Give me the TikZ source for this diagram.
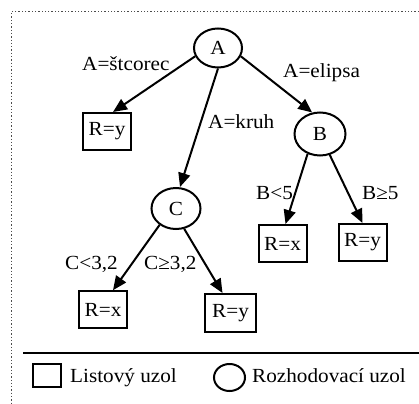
\documentclass[tikz,border=0pt]{standalone}
\usepackage{fontspec}
\setmainfont{Liberation Serif}[FakeStretch=1.06]
\usetikzlibrary{arrows.meta,shapes.geometric}
\begin{document}
\begin{tikzpicture}[x=1pt,y=-1pt,
  every node/.style={font=\fontsize{20}{22}\selectfont},
  decision/.style={ellipse,draw,line width=2pt,minimum width=48pt,minimum height=39pt,inner sep=0pt},
  leaf/.style={rectangle,draw,line width=2pt,minimum width=48pt,minimum height=37pt,inner sep=0pt},
  edge/.style={line width=2pt,-{Triangle[length=14pt,width=12pt]}},
  lbl/.style={anchor=base west,inner sep=0pt},
  frame/.style={line width=1.3pt,gray!60!black,dash pattern=on 1.3pt off 2pt}
]
\useasboundingbox (0,0) rectangle (419,403);

% dotted frame
\coordinate (fcorner) at (11.5,11.5);
\coordinate (fright) at (419,11.5);
\coordinate (fbottom) at (11.5,403);
\draw[frame] (fright) -- (fcorner) -- (fbottom);

% decision nodes
\node[decision] (A) at (218,48) {A};
\node[decision,minimum width=51pt,minimum height=43pt] (B) at (320,134) {B};
\node[decision,minimum width=49pt,minimum height=41pt] (C) at (176,208.5) {C};

% leaf nodes
\node[leaf] (ly) at (107,131.5) {R=y};
\node[leaf] (bx) at (282.5,243.5) {R=x};
\node[leaf] (by) at (362.5,242.5) {R=y};
\node[leaf] (cx) at (103,309.7) {R=x};
\node[leaf,minimum width=51pt,minimum height=38pt] (cy) at (230.5,313) {R=y};

% branches
\draw[edge] (A.200) -- ([xshift=6pt]ly.north);
\draw[edge] (A.south) -- ([xshift=4pt]C.north);
\draw[edge] (A.340) -- (B.110);
\draw[edge] (B.238) -- ([xshift=3pt]bx.north);
\draw[edge] (B.295) -- (by.north);
\draw[edge] (C.225) -- ([xshift=10pt]cx.north);
\draw[edge] (C.292) -- ([xshift=-8pt]cy.north);

% branch conditions
\node[lbl] (l1) at (82,70.5) {A=štcorec};
\node[lbl] (l2) at (283,78) {A=elipsa};
\node[lbl] (l3) at (208,129) {A=kruh};
\node[lbl] (l4) at (256,199) {B<5};
\node[lbl] (l5) at (362,199) {B≥5};
\node[lbl] (l6) at (65,269) {C<3,2};
\node[lbl] (l7) at (144,269) {C≥3,2};

% legend
\coordinate (legl) at (23,353);
\coordinate (legr) at (419,353);
\draw[line width=2pt] (legl) -- (legr);
\node[leaf,minimum width=28pt,minimum height=23pt] (legleaf) at (47,375.5) {};
\node[lbl] (legt1) at (70,382) {Listový uzol};
\node[decision,minimum width=31pt,minimum height=27pt] (legdec) at (229.5,377.5) {};
\node[lbl] (legt2) at (252,382) {Rozhodovací uzol};
\end{tikzpicture}
\end{document}
